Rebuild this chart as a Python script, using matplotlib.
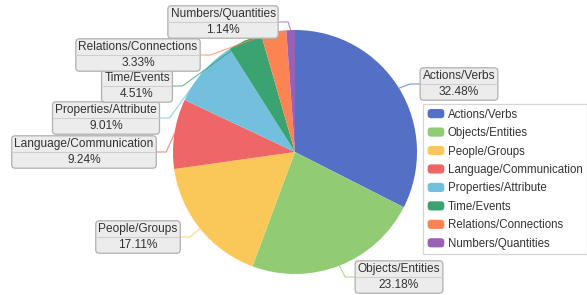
import numpy as np
import matplotlib.pyplot as plt
from matplotlib.patches import FancyBboxPatch
from matplotlib.legend_handler import HandlerPatch

plt.rcParams['font.family'] = ['Liberation Sans', 'DejaVu Sans']

categories = ['Actions/Verbs', 'Objects/Entities', 'People/Groups', 'Language/Communication',
              'Properties/Attribute', 'Time/Events', 'Relations/Connections', 'Numbers/Quantities']
shares = [32.48, 23.18, 17.11, 9.24, 9.01, 4.51, 3.33, 1.14]
colors = ['#5470c6', '#91cc75', '#fac858', '#ee6666', '#73c0de', '#3ba272', '#fc8452', '#9a60b4']

# label box centres in pixels (y from top)
label_pos = [(459, 84), (399, 277), (138, 237), (84, 152), (106, 118), (137, 86), (138, 55), (223, 22)]


class RoundHandler(HandlerPatch):
    def create_artists(self, legend, orig_handle, xdescent, ydescent, width, height, fontsize, trans):
        p = FancyBboxPatch((-xdescent, -ydescent), width, height,
                           boxstyle='round,pad=0,rounding_size=2.5', fc=orig_handle.get_facecolor(),
                           ec='none', transform=trans)
        return [p]


W, H = 587, 295
fig = plt.figure(figsize=(W / 100, H / 100), dpi=100)
ax = fig.add_axes([0, 0, 1, 1])

cx, cy, r = 295, H - 152, 122
wedges, _ = ax.pie(shares, colors=colors, startangle=90, counterclock=False,
                   center=(cx, cy), radius=r, frame=True)
ax.set_xlim(0, W)
ax.set_ylim(0, H)
ax.set_aspect('equal')
ax.axis('off')

# labels with leader lines
fs = 8.6
for w, name, val, (lx, ly), col in zip(wedges, categories, shares, label_pos, colors):
    ang = np.deg2rad((w.theta1 + w.theta2) / 2)
    px, py = cx + r * np.cos(ang), cy + r * np.sin(ang)
    ly = H - ly
    t = ax.text(lx, ly, f'{name}\n{val:.2f}%', ha='center', va='center', fontsize=fs,
                color='#333333', linespacing=1.35, zorder=5,
                bbox=dict(boxstyle='round,pad=0.22,rounding_size=0.3', fc='#ececec', ec='#b0b0b0', lw=0.9))
    fig.canvas.draw()
    bb = t.get_bbox_patch().get_window_extent().transformed(ax.transData.inverted())
    ax.plot([bb.x0 + 1, bb.x1 - 1], [(bb.y0 + bb.y1) / 2] * 2, color='#cfcfcf', lw=0.8, zorder=6)
    if lx > px:
        ex, elx = bb.x0, bb.x0 - 10
    else:
        ex, elx = bb.x1, bb.x1 + 10
    ax.plot([px, elx, ex], [py, ly, ly], color=col, lw=0.8, alpha=0.75, zorder=4)

leg = ax.legend(wedges, categories, loc='upper left', bbox_to_anchor=(423 / W, 1 - 104 / H),
                fontsize=8.3, frameon=True, fancybox=False, edgecolor='#cccccc',
                handlelength=1.45, handleheight=0.85, labelspacing=0.56, borderpad=0.4,
                handletextpad=0.3, borderaxespad=0,
                handler_map={w: RoundHandler() for w in wedges})
leg.get_frame().set_linewidth(0.9)
for txt in leg.get_texts():
    txt.set_color('#333333')

fig.savefig('out.png', dpi=100)
